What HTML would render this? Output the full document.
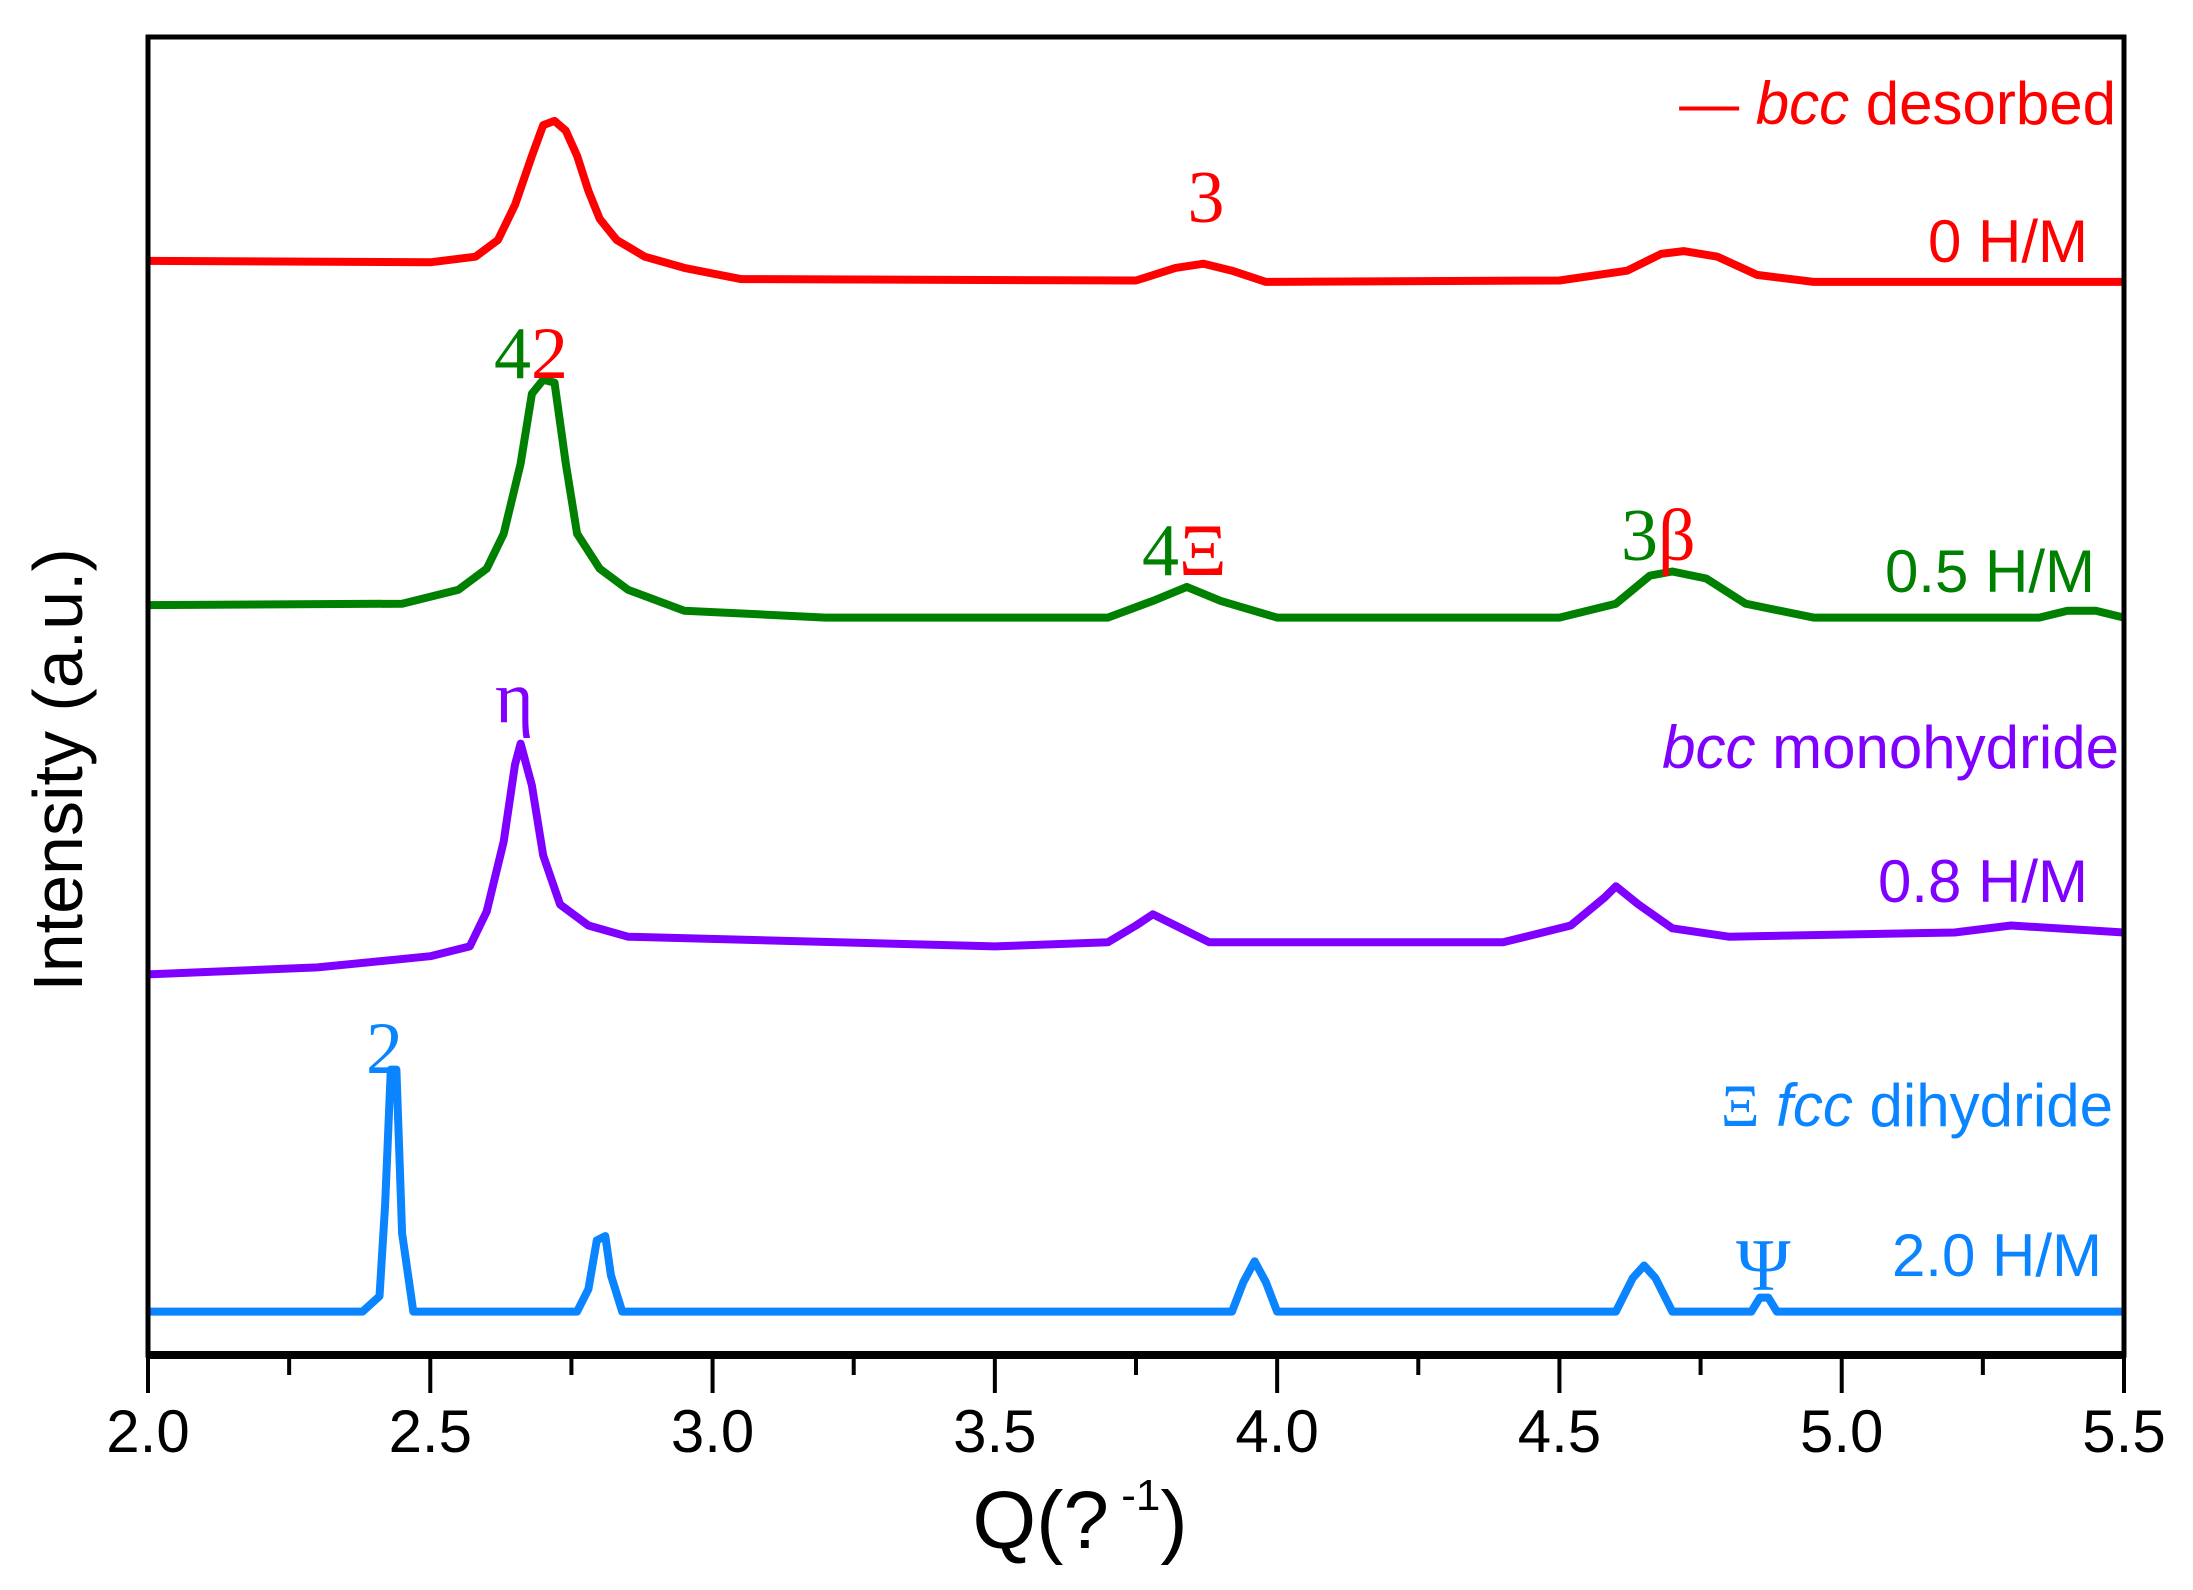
<!DOCTYPE html>
<html><head><meta charset="utf-8"><style>
html,body{margin:0;padding:0;background:#fff;}
svg{display:block;}
text{font-family:"Liberation Sans",sans-serif;}
.serif{font-family:"Liberation Serif","DejaVu Serif",serif;}
</style></head><body>
<svg id="chart" width="2193" height="1590" viewBox="0 0 2193 1590">
<g id="series"></g>
<rect x="148" y="37" width="1976" height="1318" fill="none" stroke="#000" stroke-width="5"/>
<line x1="146" y1="1355" x2="2126" y2="1355" stroke="#000" stroke-width="8"/>
<g id="xticks"></g>
<text x="1080" y="1548" font-size="82" text-anchor="middle">Q(?<tspan font-size="44" dy="-38"> -1</tspan><tspan dy="38">)</tspan></text>
<text transform="translate(82,770) rotate(-90)" font-size="70" text-anchor="middle">Intensity (a.u.)</text>

<text x="2116" y="124" font-size="60" fill="#ff0000" text-anchor="end">— <tspan font-style="italic">bcc</tspan> desorbed</text>
<text x="1206" y="222" font-size="74" fill="#ff0000" text-anchor="middle" class="serif">3</text>
<text x="2088" y="262" font-size="60" fill="#ff0000" text-anchor="end">0 H/M</text>

<text x="494" y="378" font-size="74" class="serif"><tspan fill="#008000">4</tspan><tspan fill="#ff0000">2</tspan></text>
<text x="1142" y="575" font-size="74" class="serif"><tspan fill="#008000">4</tspan><tspan fill="#ff0000">Ξ</tspan></text>
<text x="1621" y="560" font-size="74" class="serif"><tspan fill="#008000">3</tspan><tspan fill="#ff0000">β</tspan></text>
<text x="2095" y="592" font-size="60" fill="#008000" text-anchor="end">0.5 H/M</text>

<text x="2119" y="768" font-size="60" fill="#8000ff" text-anchor="end"><tspan font-style="italic">bcc</tspan> monohydride</text>
<text x="495" y="722" font-size="74" fill="#8000ff" class="serif">η</text>
<text x="2088" y="902" font-size="60" fill="#8000ff" text-anchor="end">0.8 H/M</text>

<text x="366" y="1073" font-size="74" fill="#0a84ff" class="serif">2</text>
<text x="2113" y="1126" font-size="60" fill="#0a84ff" text-anchor="end"><tspan class="serif">Ξ</tspan>  <tspan font-style="italic">fcc</tspan> dihydride</text>
<text x="1736" y="1290" font-size="74" fill="#0a84ff" class="serif">Ψ</text>
<text x="2102" y="1276" font-size="60" fill="#0a84ff" text-anchor="end">2.0 H/M</text>
</svg>
<script>
// Intensity in arbitrary units (offset-stacked)
const qRed=[2.0,2.5,2.58,2.62,2.65,2.68,2.7,2.72,2.74,2.76,2.78,2.8,2.83,2.88,2.95,3.05,3.75,3.82,3.87,3.92,3.98,4.5,4.62,4.68,4.72,4.78,4.85,4.95,5.5];
const iRed=[782,781,785,797,822,857,879,882,875,857,832,812,797,785,777,769,768,777,780,775,767,768,775,787,789,785,772,767,767];
const qGreen=[2.0,2.45,2.55,2.6,2.63,2.66,2.68,2.7,2.72,2.74,2.76,2.8,2.85,2.95,3.2,3.7,3.78,3.84,3.9,4.0,4.5,4.6,4.66,4.7,4.76,4.83,4.95,5.35,5.4,5.45,5.5];
const iGreen=[536,537,547,562,587,637,687,697,695,637,587,562,547,532,527,527,539,549,539,527,527,537,557,560,555,537,527,527,532,532,527];
const qPurple=[2.0,2.3,2.5,2.57,2.6,2.63,2.65,2.66,2.68,2.7,2.73,2.78,2.85,3.5,3.7,3.75,3.78,3.82,3.88,4.4,4.52,4.58,4.6,4.64,4.7,4.8,5.2,5.3,5.5];
const iPurple=[272,277,285,292,317,367,422,437,407,357,322,307,299,292,295,307,315,307,295,295,307,327,335,322,305,299,302,307,302];
const qBlue=[2.0,2.38,2.41,2.42,2.43,2.44,2.45,2.47,2.76,2.78,2.795,2.81,2.82,2.84,3.92,3.94,3.96,3.98,4.0,4.6,4.63,4.65,4.67,4.7,4.84,4.855,4.87,4.885,5.5];
const iBlue=[31,31,42,107,204,204,87,31,31,47,82,85,57,31,31,52,67,52,31,31,55,64,55,31,31,41,41,31,31];
const xTicks=[2.0,2.5,3.0,3.5,4.0,4.5,5.0,5.5];
const xTickLabels=["2.0","2.5","3.0","3.5","4.0","4.5","5.0","5.5"];
const minorTicks=[2.25,2.75,3.25,3.75,4.25,4.75,5.25];

const NS="http://www.w3.org/2000/svg";
const X0=148,X1=2124,Y0=1355,Y1=37,QMIN=2.0,QMAX=5.5,IMIN=0,IMAX=942;
function xs(q){return X0+(q-QMIN)/(QMAX-QMIN)*(X1-X0);}
function ys(v){return Y0-(v-IMIN)/(IMAX-IMIN)*(Y0-Y1);}
const g=document.getElementById('series');
function draw(qs,is,color,name){
  const pts=qs.map((q,i)=>xs(q).toFixed(1)+','+ys(is[i]).toFixed(1)).join(' ');
  const p=document.createElementNS(NS,'polyline');
  p.setAttribute('points',pts);
  p.setAttribute('fill','none');
  p.setAttribute('stroke',color);
  p.setAttribute('stroke-width','8');
  p.setAttribute('stroke-linejoin','round');
  
  
  g.appendChild(p);
}
draw(qRed,iRed,'#ff0000','series-0-hm');
draw(qGreen,iGreen,'#008000','series-0-5-hm');
draw(qPurple,iPurple,'#8000ff','series-0-8-hm');
draw(qBlue,iBlue,'#0a84ff','series-2-0-hm');
const tg=document.getElementById('xticks');
xTicks.forEach((q,i)=>{
  const l=document.createElementNS(NS,'line');
  l.setAttribute('x1',xs(q));l.setAttribute('x2',xs(q));
  l.setAttribute('y1',Y0);l.setAttribute('y2',Y0+38);
  l.setAttribute('stroke','#000');l.setAttribute('stroke-width','4');
  
  
  tg.appendChild(l);
  const t=document.createElementNS(NS,'text');
  t.setAttribute('x',xs(q));t.setAttribute('y',1452);
  t.setAttribute('font-size','60');t.setAttribute('text-anchor','middle');
  t.textContent=xTickLabels[i];
  
  
  tg.appendChild(t);
});
minorTicks.forEach(q=>{
  const l=document.createElementNS(NS,'line');
  l.setAttribute('x1',xs(q));l.setAttribute('x2',xs(q));
  l.setAttribute('y1',Y0);l.setAttribute('y2',Y0+20);
  l.setAttribute('stroke','#000');l.setAttribute('stroke-width','4');
  
  
  tg.appendChild(l);
});
</script>
</body></html>
